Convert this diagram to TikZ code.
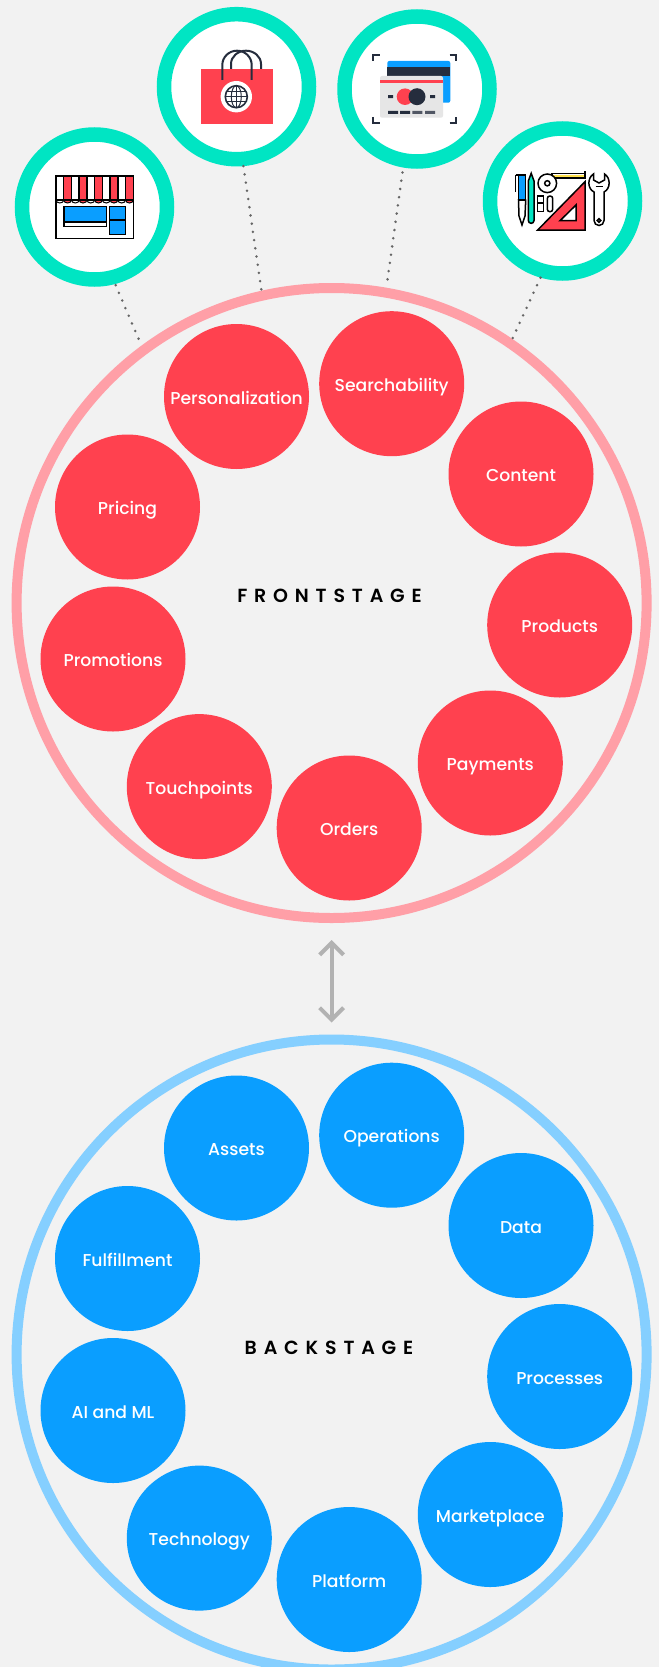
\documentclass[tikz,border=0pt]{standalone}
\usepackage{fontspec}
\setmainfont{Poppins Medium}[BoldFont={Poppins SemiBold}]
\usetikzlibrary{arrows.meta}
\definecolor{pagegray}{HTML}{F2F2F2}
\definecolor{tealring}{HTML}{00E5C3}
\definecolor{redfill}{HTML}{FF414F}
\definecolor{redring}{HTML}{FF9FA7}
\definecolor{bluefill}{HTML}{0A9EFF}
\definecolor{bluering}{HTML}{85CFFF}
\definecolor{inkdark}{HTML}{252D3D}
\definecolor{cardgray}{HTML}{E6E6E6}
\definecolor{tapeyellow}{HTML}{FFE14D}
\begin{document}
\begin{tikzpicture}[x=1pt, y=-1pt,
    iconring/.style={circle, draw=tealring, fill=white, line width=14.5pt, minimum size=145pt, inner sep=0pt},
    bigring/.style={circle, line width=10pt, minimum size=630pt, inner sep=0pt},
    disc/.style={circle, minimum size=145pt, inner sep=0pt, text=white, text height=15pt, text depth=0pt, font=\fontsize{17.2}{18}\selectfont},
    frontdisc/.style={disc, fill=redfill},
    backdisc/.style={disc, fill=bluefill},
    stagelabel/.style={font=\fontsize{19}{20}\selectfont\bfseries\addfontfeatures{LetterSpace=36}},
    dotline/.style={draw=black!60, line width=2.8pt, line cap=round, dash pattern=on 0pt off 8.3pt},
    blk/.style={draw=black, line width=1.5pt}]
    \clip (0,0) rectangle (659,1667);
    \fill[pagegray] (0,0) rectangle (659,1667);

    \node[bigring, draw=redring] (frontring) at (331.6,603) {};
    \node[bigring, draw=bluering] (backring) at (331.6,1354.5) {};
    \draw[draw=black!30, line width=4pt, {Straight Barb[length=12pt,width=24pt]}-{Straight Barb[length=12pt,width=24pt]}, shorten <=17pt, shorten >=12pt] (frontring) -- (backring);

    \node[iconring] (shop) at (94.5,207) {};
    \node[iconring] (bag) at (236.5,86.7) {};
    \node[iconring] (card) at (417,89) {};
    \node[iconring] (tools) at (562.5,201) {};
    \coordinate (shopend) at (139.3,340.5);
    \coordinate (bagend) at (261.5,291);
    \coordinate (cardend) at (387.1,282.5);
    \coordinate (toolsend) at (512,339.5);
    \draw[dotline, shorten <=1.3pt] (shop.-75) -- (shopend);
    \draw[dotline] (bag.-85.5) -- (bagend);
    \draw[dotline, shorten <=5pt] (card.-100) -- (cardend);
    \draw[dotline] (tools.-106) -- (toolsend);

    \node[stagelabel] (frontlabel) at (329.5,596) {FRONTSTAGE};
    \node[stagelabel] (backlabel) at (329,1347.5) {BACKSTAGE};

    \node[frontdisc] (personal) at (236.5,396.5) {Personalization};
    \node[frontdisc] (search) at (391.7,383.7) {Searchability};
    \node[frontdisc] (content) at (521,474) {Content};
    \node[frontdisc] (products) at (559.7,625) {Products};
    \node[frontdisc] (payments) at (490.3,763) {Payments};
    \node[frontdisc] (orders) at (349.2,828) {Orders};
    \node[frontdisc] (touch) at (199.3,786.6) {Touchpoints};
    \node[frontdisc] (promo) at (113,659) {Promotions};
    \node[frontdisc] (pricing) at (127.5,507) {Pricing};

    \node[backdisc] (assets) at (236.5,1148) {Assets};
    \node[backdisc] (operations) at (391.7,1135.2) {Operations};
    \node[backdisc] (data) at (521,1225.5) {Data};
    \node[backdisc] (processes) at (559.7,1376.5) {Processes};
    \node[backdisc] (market) at (490.3,1514.5) {Marketplace};
    \node[backdisc] (platform) at (349.2,1579.5) {Platform};
    \node[backdisc] (tech) at (199.3,1538.1) {Technology};
    \node[backdisc] (aiml) at (113,1410.5) {AI and ML};
    \node[backdisc] (fulfil) at (127.5,1258.5) {Fulfillment};

    % shop icon
    \fill[white] (56,176) rectangle (133.3,238.3);
    \foreach \i in {1,3,5,7,9} \fill[redfill] (56+\i*7.73,176) rectangle (56+\i*7.73+7.73,200);
    \foreach \i in {0,...,9} {
        \pgfmathsetmacro{\scalfill}{isodd(\i) ? "redfill" : "white"}
        \draw[draw=black, line width=1pt, fill=\scalfill] (56+\i*7.73,200) arc[start angle=180, end angle=0, x radius=3.87, y radius=3];
        \draw[blk] (56+\i*7.73,176) -- (56+\i*7.73,200);
    }
    \draw[blk] (56,176) rectangle (133.3,238.3);
    \draw[blk] (56,200) -- (133.3,200);
    \draw[blk, fill=bluefill] (64,206.7) rectangle (106.7,222);
    \draw[blk] (64,222) rectangle (106.7,226.7);
    \draw[blk, fill=bluefill] (109.3,206.7) rectangle (125.3,234.3);
    \draw[blk] (109.3,220) -- (125.3,220);

    % bag icon
    \draw[inkdark, line width=2pt] (231,69) -- (231,64) arc[start angle=180, end angle=360, x radius=15, y radius=13.3] -- (261,69);
    \fill[redfill] (201,69) rectangle (273,124);
    \draw[inkdark, line width=2pt] (222.3,80) -- (222.3,65) arc[start angle=180, end angle=360, x radius=14.7, y radius=14.3] -- (251.7,80);
    \fill[white] (236.3,96.7) circle[radius=15.7];
    \draw[inkdark, line width=1.6pt] (236.3,96.7) circle[radius=11];
    \draw[inkdark, line width=1pt] (236.3,96.7) ellipse[x radius=5, y radius=11];
    \draw[inkdark, line width=1pt] (236.3,85.7) -- (236.3,107.7) (225.3,96.7) -- (247.3,96.7) (226.7,91.7) -- (245.9,91.7) (226.7,101.7) -- (245.9,101.7);

    % card icon
    \draw[inkdark, line width=2pt] (373.3,61) -- (373.3,55.3) -- (380,55.3);
    \draw[inkdark, line width=2pt] (449.7,55.3) -- (456.4,55.3) -- (456.4,61);
    \draw[inkdark, line width=2pt] (373.3,117) -- (373.3,123) -- (380,123);
    \draw[inkdark, line width=2pt] (449.7,123) -- (456.4,123) -- (456.4,117);
    \fill[bluefill, rounded corners=2pt] (387.3,61) rectangle (450.3,102.7);
    \fill[inkdark] (387.3,66.7) rectangle (450.3,76);
    \fill[cardgray, rounded corners=2pt] (380,76) rectangle (443,117.7);
    \fill[redfill] (380,80) rectangle (443,83);
    \fill[redfill] (405,96.7) circle[radius=8.3];
    \fill[inkdark] (417,96.7) circle[radius=8.5];
    \fill[inkdark] (388,95.2) rectangle (393,98.2) (430,95.2) rectangle (435,98.2);
    \fill[inkdark] (388,110.8) rectangle (398,113.8) (400,110.8) rectangle (410,113.8);
    \fill[inkdark!80] (412.3,110.8) rectangle (422.3,113.8) (425,110.8) rectangle (435,113.8);

    % tools icon
    \draw[blk, fill=bluefill] (518.5,175) rectangle (525.7,200);
    \draw[blk] (515.7,175) -- (515.7,192) (515.7,175) -- (519,175);
    \draw[blk, fill=white] (518.5,200) -- (525.7,200) -- (525,216) -- (522,225) -- (519,216) -- cycle;
    \draw[blk, fill=tealring] (528.3,181) -- (531.2,173.3) -- (534,181) -- (534,220.5) arc[start angle=0, end angle=180, radius=2.85] -- cycle;
    \draw[blk, fill=white] (552,173.5) rectangle (585,178);
    \fill[tapeyellow] (553,175) rectangle (584,177);
    \draw[blk] (585,171) -- (585,178);
    \draw[blk, fill=white] (547.3,183.3) circle[radius=9.3];
    \draw[blk] (547.3,183.3) circle[radius=2.6];
    \draw[blk, fill=white] (537.7,196) rectangle (543.3,211.7);
    \draw[blk] (537.7,203) -- (543.3,203);
    \draw[blk, fill=white, rounded corners=2.5pt] (547.3,196) rectangle (552.7,211.7);
    \draw[blk, fill=redfill, even odd rule] (585,181.7) -- (585,230) -- (537.7,230) -- cycle (576,205) -- (576,220.7) -- (560,220.7) -- cycle;
    \draw[blk, fill=white] (593.5,174) .. controls (587,178) and (587.5,189) .. (594,192) -- (594,220.5) arc[start angle=180, end angle=0, radius=5] -- (604,192) .. controls (610.5,189) and (611,178) .. (604.5,174) -- (604.5,180) -- (599,183) -- (593.5,180) -- cycle;
    \draw[blk] (599,220.5) circle[radius=1.8];
    \draw[blk] (595.5,186.5) -- (602.5,186.5);
\end{tikzpicture}
\end{document}
